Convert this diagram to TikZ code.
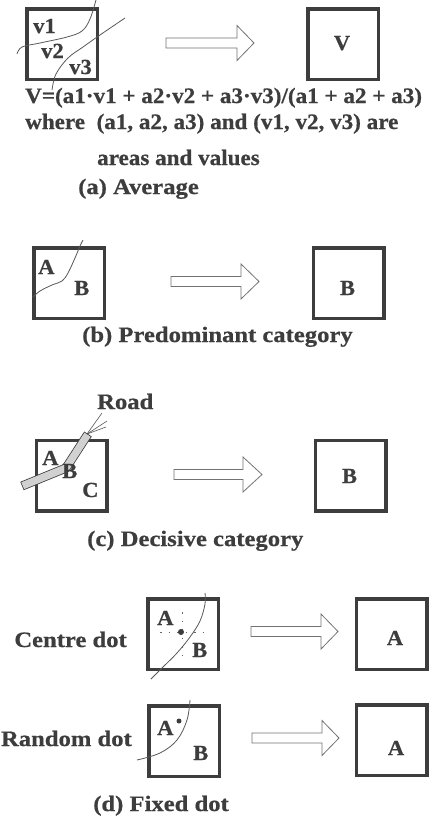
\documentclass[tikz,border=0pt]{standalone}
\usepackage{fontspec}
\setmainfont{Liberation Serif}[FakeStretch=1.05, BoldFeatures={FakeBold=0.6}]
\newfontfamily\capfont{Liberation Serif}[FakeStretch=1.12, BoldFeatures={FakeBold=0.6}]
\definecolor{ink}{gray}{0.24}
\tikzset{
  cell/.style={draw=ink, line width=3.5pt, minimum size=70.5pt, inner sep=0pt, outer sep=0pt},
  lbl/.style={inner sep=0pt, text=ink, font=\fontsize{21.5}{21.5}\selectfont\bfseries},
  txt/.style={inner sep=0pt, text=ink, font=\fontsize{22}{22}\selectfont\bfseries},
  captxt/.style={inner sep=0pt, text=ink, font=\capfont\fontsize{22}{22}\selectfont\bfseries},
  edgeline/.style={draw=black!65, line width=0.8pt},
  blk/.style={draw=black!55, line width=0.8pt, fill=white, line join=miter},
  xhair/.style={draw=black!60, line width=0.6pt, dash pattern=on 1.5pt off 7pt},
}
\newcommand{\blkarrow}[4]{%
  \draw[blk] ({#1},{#4-5}) -- ({#2},{#4-5}) -- ({#2},{#4-17.5}) -- ({#3},{#4})
    -- ({#2},{#4+17.5}) -- ({#2},{#4+5}) -- ({#1},{#4+5}) -- cycle;}
\begin{document}
\begin{tikzpicture}[x=1pt, y=-1pt]
\useasboundingbox[fill=white] (0,0) rectangle (439,820);

% ---------- (a) Average ----------
\node[cell] (aL) at (62,44) {};
\node[cell] (aR) at (343,44) {};
\draw[edgeline] plot[smooth, tension=0.6] coordinates {(17,54) (22,47) (40,43) (67,37) (82,31) (90,19) (96,0)};
\draw[edgeline] plot[smooth, tension=0.6] coordinates {(52,90) (56,74) (68,58) (83,47) (100,35) (125,18)};
\node[lbl, anchor=base west] (v1) at (33,33) {v1};
\node[lbl, anchor=base west] (v2) at (41,58) {v2};
\node[lbl, anchor=base west] (v3) at (69,74) {v3};
\node[lbl, anchor=base] (aV) at (342,50) {V};
\blkarrow{166}{237}{254}{43}
\node[txt, anchor=base west] (f1) at (25,103) {V=(a1·v1 + a2·v2 + a3·v3)/(a1 + a2 + a3)};
\node[txt, anchor=base west] (f2) at (25,129) {where\ \ (a1, a2, a3) and (v1, v2, v3) are};
\node[txt, anchor=base west] (f3) at (97,165) {areas and values};
\node[captxt, anchor=base west] (capa) at (78,194) {(a) Average};

% ---------- (b) Predominant ----------
\node[cell] (bL) at (69,283) {};
\node[cell] (bR) at (348.5,283) {};
\draw[edgeline] plot[smooth, tension=0.6] coordinates {(33,297) (40,291) (52,285) (62,281) (68,273) (75,258) (80,246) (83,240)};
\node[lbl, anchor=base west] (bA) at (38,274) {A};
\node[lbl, anchor=base west] (bB) at (74,295) {B};
\node[lbl, anchor=base] (bBR) at (347.5,295) {B};
\blkarrow{171}{241}{259}{281.5}
\node[captxt, anchor=base west] (capb) at (82,342) {(b) Predominant category};

% ---------- (c) Decisive ----------
\node[cell] (cL) at (71.5,475.5) {};
\node[cell] (cR) at (350.5,475.5) {};
\draw[line width=9pt, ink, line join=miter] (22,486) -- (66,468) -- (88,434);
\draw[line width=7.4pt, black!18, line join=miter, shorten <=0.8pt, shorten >=0.8pt] (22,486) -- (66,468) -- (88,434);
\coordinate (roadtip) at (87,434);
\node[captxt, anchor=base west] (road) at (97,409) {Road};
\draw[edgeline, line width=0.6pt] (roadtip) -- (102,413);
\draw[edgeline, line width=0.6pt] (roadtip) -- (107,421);
\draw[edgeline, line width=0.6pt] (roadtip) -- (106,427);
\node[lbl, anchor=base west] (cA) at (42,465) {A};
\node[lbl, anchor=base west] (cB) at (62,478) {B};
\node[lbl, anchor=base west] (cC) at (82,497) {C};
\node[lbl, anchor=base] (cBR) at (349.5,483) {B};
\blkarrow{174}{243}{262}{474.5}
\node[captxt, anchor=base west] (capc) at (87,546) {(c) Decisive category};

% ---------- (d) Fixed dot ----------
\node[cell] (dL1) at (183,634) {};
\node[cell] (dR1) at (391.5,634) {};
\draw[xhair] (182,612) -- (182,658);
\draw[xhair] (160,632) -- (207,632);
\draw[edgeline] plot[smooth, tension=0.6] coordinates {(151,679) (163,667) (177,653) (190,637) (200,621) (205,604) (205,593)};
\fill[ink] (181,632) circle (3pt);
\node[lbl, anchor=base west] (dA1) at (157,625) {A};
\node[lbl, anchor=base west] (dB1) at (192,657) {B};
\node[lbl, anchor=base] (dAR1) at (395,645) {A};
\node[captxt, anchor=base east] (centre) at (127,647) {Centre dot};
\blkarrow{251}{321}{338}{631.5}

\node[cell] (dL2) at (184,741) {};
\node[cell] (dR2) at (391.5,740) {};
\draw[edgeline] plot[smooth, tension=0.6] coordinates {(137,760) (160,753) (177,740) (187,720) (190,700)};
\fill[ink] (179,721) circle (2.5pt);
\node[lbl, anchor=base west] (dA2) at (157,735) {A};
\node[lbl, anchor=base west] (dB2) at (193,760) {B};
\node[lbl, anchor=base] (dAR2) at (396,755) {A};
\node[captxt, anchor=base east] (random) at (132,746) {Random dot};
\blkarrow{252}{322}{339}{738}
\node[captxt, anchor=base east] (capd) at (229,811) {(d) Fixed dot};
\end{tikzpicture}
\end{document}
